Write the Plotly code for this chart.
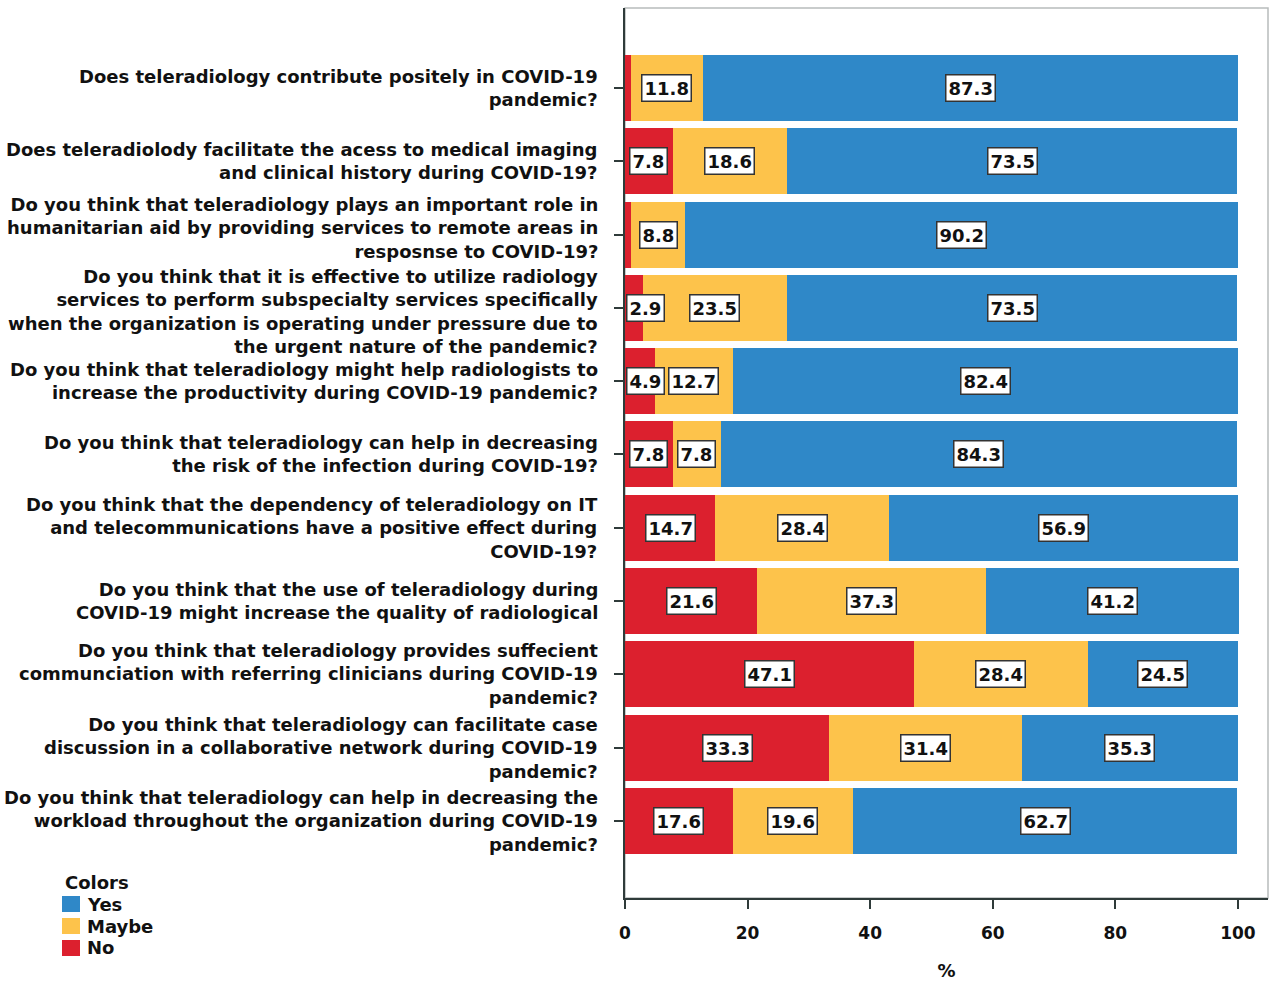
import plotly.graph_objects as go

questions = [
    "Does teleradiology contribute positely in COVID-19<br>pandemic?",
    "Does teleradiolody facilitate the acess to medical imaging<br>and clinical history during COVID-19?",
    "Do you think that teleradiology plays an important role in<br>humanitarian aid by providing services to remote areas in<br>resposnse to COVID-19?",
    "Do you think that it is effective to utilize radiology<br>services to perform subspecialty services specifically<br>when the organization is operating under pressure due to<br>the urgent nature of the pandemic?",
    "Do you think that teleradiology might help radiologists to<br>increase the productivity during COVID-19 pandemic?",
    "Do you think that teleradiology can help in decreasing<br>the risk of the infection during COVID-19?",
    "Do you think that the dependency of teleradiology on IT<br>and telecommunications have a positive effect during<br>COVID-19?",
    "Do you think that the use of teleradiology during<br>COVID-19 might increase the quality of radiological",
    "Do you think that teleradiology provides suffecient<br>communciation with referring clinicians during COVID-19<br>pandemic?",
    "Do you think that teleradiology can facilitate case<br>discussion in a collaborative network during COVID-19<br>pandemic?",
    "Do you think that teleradiology can help in decreasing the<br>workload throughout the organization during COVID-19<br>pandemic?",
]

no_pct = [0.9, 7.8, 1.0, 2.9, 4.9, 7.8, 14.7, 21.6, 47.1, 33.3, 17.6]
maybe_pct = [11.8, 18.6, 8.8, 23.5, 12.7, 7.8, 28.4, 37.3, 28.4, 31.4, 19.6]
yes_pct = [87.3, 73.5, 90.2, 73.5, 82.4, 84.3, 56.9, 41.2, 24.5, 35.3, 62.7]

x_ticks = [0, 20, 40, 60, 80, 100]
legend_items = ["Yes", "Maybe", "No"]

FONT = "DejaVu Sans, Verdana, sans-serif"
INK = "#111111"
AXIS = "#2f3b3a"
colors = {"No": "#dc202e", "Maybe": "#fdc34b", "Yes": "#2f88c8"}

# vertical nudges (px) for the long wrapped question labels so they don't collide
label_nudge = {2: 7, 3: -4}

# plot area in pixels (used to place the hand-drawn legend)
W, H = 1269, 983
L, R, T, B = 625, 1, 8, 85
PW, PH = W - L - R, H - T - B
X_MAX = 104.9


def px_to_paper(px, py):
    return (px - L) / PW, (H - B - py) / PH


fig = go.Figure()
series = [("No", no_pct), ("Maybe", maybe_pct), ("Yes", yes_pct)]
for name, vals in series:
    fig.add_trace(go.Bar(
        y=questions, x=vals, name=name, orientation="h",
        marker=dict(color=colors[name], line=dict(width=0)),
        hoverinfo="x+name", showlegend=False,
    ))

label_font = dict(family=FONT, size=18, color=INK, weight="bold")
annotations = []

# question labels, right-aligned against the axis
for i, q in enumerate(questions):
    annotations.append(dict(
        x=0, y=q, xref="paper", yref="y", text=q, showarrow=False,
        xanchor="right", yanchor="middle", align="right",
        xshift=-25, yshift=label_nudge.get(i, 0), font=label_font,
    ))

# boxed value labels centred in each segment (tiny slivers left unlabelled);
# boxes that would cross the axis are pinned just inside it
half_box_units = 17 / (PW / X_MAX)
for i, q in enumerate(questions):
    start = 0.0
    for name, vals in series:
        v = vals[i]
        if v >= 2:
            cx = start + v / 2
            ann = dict(
                y=q, xref="x", yref="y",
                text=f"{v:.1f}", showarrow=False,
                font=label_font,
                bgcolor="white", bordercolor="#333333", borderwidth=1.5, borderpad=2,
            )
            if cx - half_box_units < 0:
                ann.update(x=0, xanchor="left", xshift=1)
            else:
                ann.update(x=cx, xanchor="center")
            annotations.append(ann)
        start += v

# legend: title plus colour swatches
shapes = [dict(type="rect", xref="paper", yref="paper", x0=0, x1=1, y0=0, y1=1,
               line=dict(color="#b8bcbc", width=1.5), layer="below")]
tx, ty = px_to_paper(63, 882)
annotations.append(dict(x=tx, y=ty, xref="paper", yref="paper", text="Colors",
                        showarrow=False, xanchor="left", yanchor="middle", font=label_font))
for k, name in enumerate(legend_items):
    cy = 904 + k * 22
    x0, y0 = px_to_paper(62, cy + 8)
    x1, y1 = px_to_paper(80, cy - 8)
    shapes.append(dict(type="rect", xref="paper", yref="paper", x0=x0, x1=x1, y0=y0, y1=y1,
                       fillcolor=colors[name], line=dict(width=0)))
    lx, ly = px_to_paper(85, cy)
    annotations.append(dict(x=lx, y=ly, xref="paper", yref="paper", text=name,
                            showarrow=False, xanchor="left", yanchor="middle", font=label_font))

fig.update_layout(
    width=W, height=H,
    margin=dict(l=L, r=R, t=T, b=B, autoexpand=False),
    paper_bgcolor="white", plot_bgcolor="white",
    barmode="stack", bargap=0.1,
    font=dict(family=FONT, color=INK),
    annotations=annotations, shapes=shapes,
    showlegend=False,
)

fig.update_xaxes(
    range=[0, X_MAX], tickvals=x_ticks, ticktext=[str(t) for t in x_ticks],
    showgrid=False, zeroline=False, automargin=False,
    showline=True, linecolor=AXIS, linewidth=2,
    ticks="outside", ticklen=9, tickwidth=2, tickcolor=AXIS,
    tickfont=dict(family=FONT, size=17, color=INK, weight="bold"),
    ticklabelstandoff=10,
    title=dict(text="%", font=dict(family=FONT, size=18, color=INK, weight="bold"), standoff=22),
)
fig.update_yaxes(
    range=[11.05, -1.09],
    showgrid=False, zeroline=False, automargin=False,
    showline=True, linecolor=AXIS, linewidth=2,
    ticks="outside", ticklen=9, tickwidth=2, tickcolor=AXIS,
    showticklabels=False,
)

fig.write_html("out.html")
